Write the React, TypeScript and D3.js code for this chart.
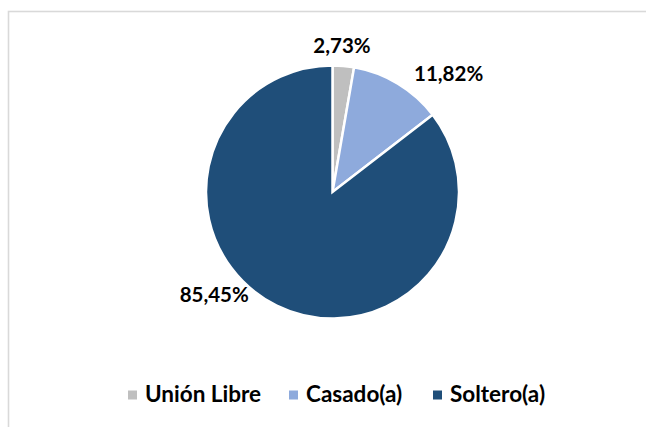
import React from 'react';
import * as d3 from 'd3';

// chart data
const categories = ['Unión Libre', 'Casado(a)', 'Soltero(a)'];
const values = [2.73, 11.82, 85.45];
const labels = ['2,73%', '11,82%', '85,45%'];
const colors = ['#bfbfbf', '#8eaadc', '#1f4e79'];

// label placement (polar, degrees clockwise from top / px from center)
const labelAngle = [3.7, 44.4, 229.3];
const labelRadius = [147, 166, 156];

const width = 646;
const height = 427;
const cx = 332.5;
const cy = 192;
const radius = 126.5;
const font = 'Lato, Calibri, "Liberation Sans", sans-serif';

export default function App() {
  const pie = d3
    .pie<number>()
    .sort(null)
    .value((d) => d);
  const arcs = pie(values);
  const arc = d3.arc<d3.PieArcDatum<number>>().innerRadius(0).outerRadius(radius);

  const color = d3.scaleOrdinal<string, string>().domain(categories).range(colors);

  // legend layout
  const legendX = d3.scaleOrdinal<string, number>().domain(categories).range([128, 289, 433]);

  return (
    <svg
      width={width}
      height={height}
      style={{ position: 'absolute', left: 0, top: 0, display: 'block', background: '#fff' }}
    >
      <rect x={8.5} y={11.5} width={700} height={500} fill="#fff" stroke="#d9d9d9" strokeWidth={1.6} />
      <g transform={`translate(${cx},${cy})`}>
        {arcs.map((a, i) => (
          <path key={i} d={arc(a) || ''} fill={color(categories[i])} stroke="#fff" strokeWidth={2.5} />
        ))}
        {arcs.map((a, i) => {
          const t = (labelAngle[i] * Math.PI) / 180;
          return (
            <text
              key={'l' + i}
              x={Math.sin(t) * labelRadius[i]}
              y={-Math.cos(t) * labelRadius[i]}
              textAnchor="middle"
              dominantBaseline="central"
              fontFamily={font}
              fontWeight="bold"
              fontSize={20.5}
              fill="#000"
            >
              {labels[i]}
            </text>
          );
        })}
      </g>
      <g>
        {categories.map((c) => (
          <g key={c} transform={`translate(${legendX(c)},395)`}>
            <rect x={0} y={-4.5} width={9} height={9} fill={color(c)} />
            <text x={17} y={7} fontFamily={font} fontWeight="bold" fontSize={22.5} fill="#000">
              {c}
            </text>
          </g>
        ))}
      </g>
    </svg>
  );
}
